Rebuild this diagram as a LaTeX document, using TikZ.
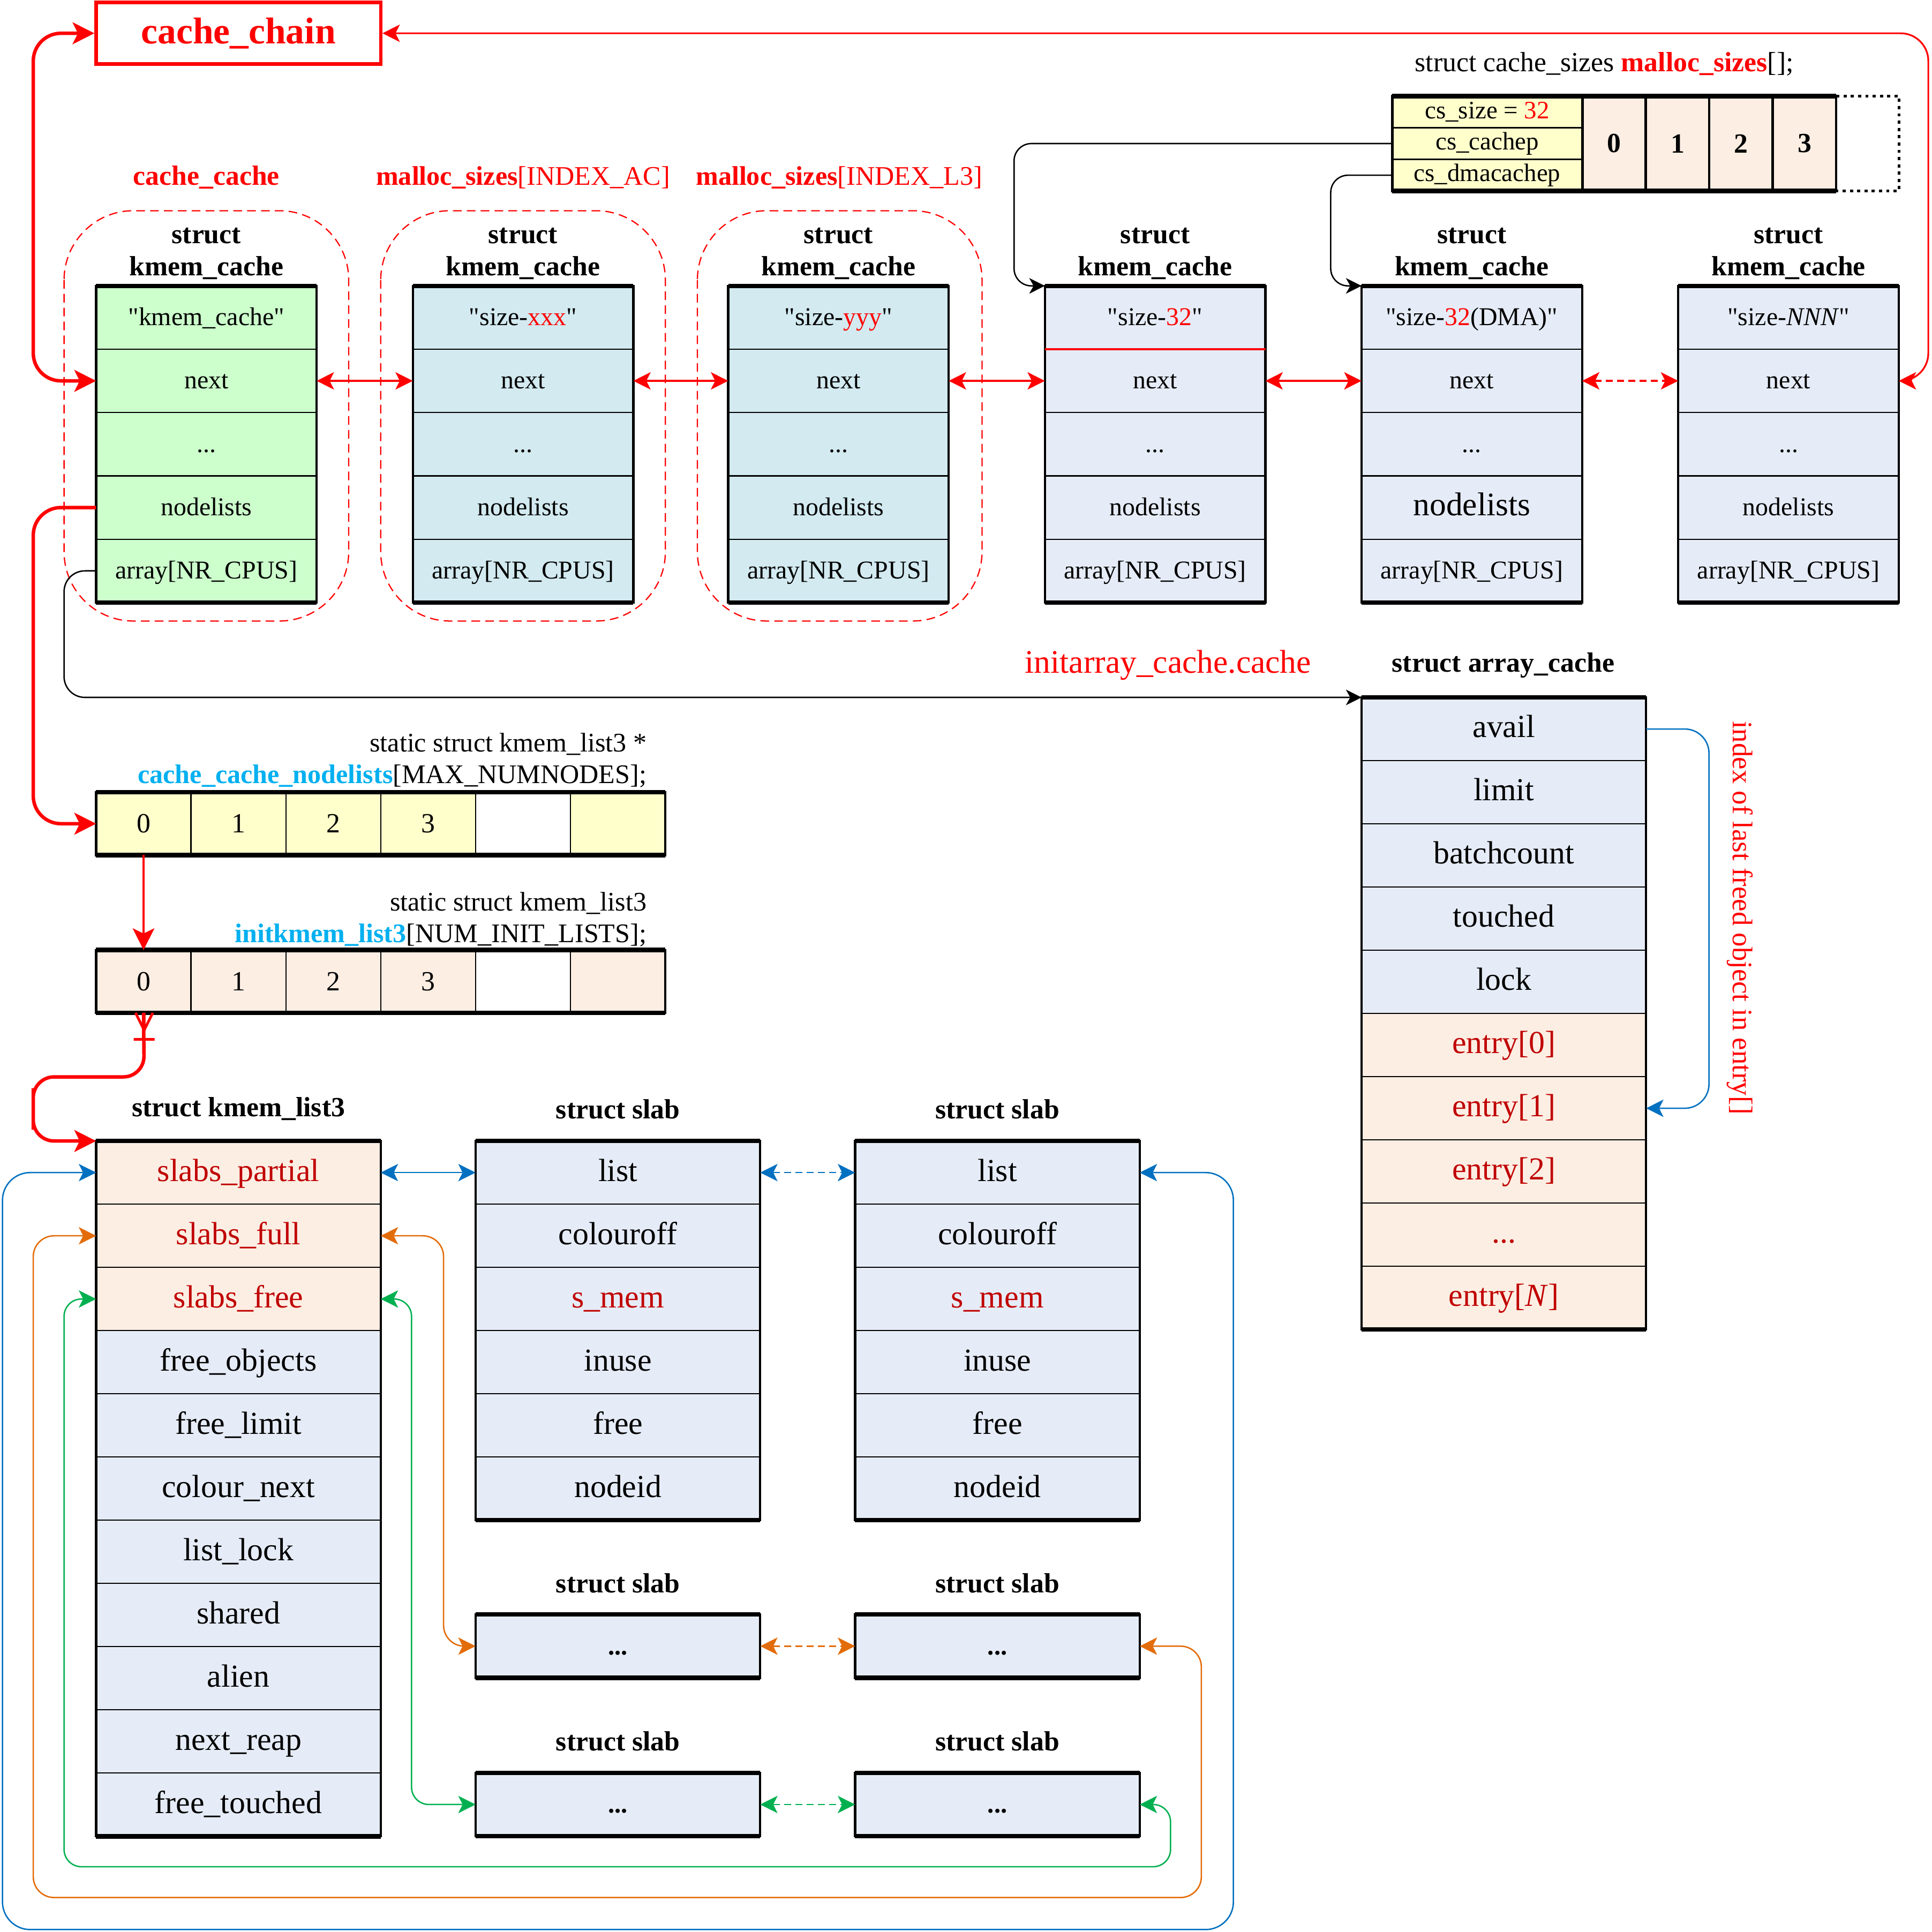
\documentclass[tikz,border=0pt]{standalone}
\usepackage{fontspec}
\setmainfont{Liberation Serif}[Ligatures=TeXOff]
\usetikzlibrary{arrows.meta}
\definecolor{kgreen}{HTML}{CCFFCC}
\definecolor{kblue}{HTML}{D2EAF0}
\definecolor{kgrey}{HTML}{E6ECF7}
\definecolor{kpeach}{HTML}{FCEEE3}
\definecolor{kyellow}{HTML}{FFFFCC}
\definecolor{dred}{HTML}{C00000}
\definecolor{kred}{HTML}{FF0000}
\definecolor{kcyan}{HTML}{00B0F0}
\definecolor{kbluel}{HTML}{0070C0}
\definecolor{korange}{HTML}{E36C0A}
\definecolor{kgreenl}{HTML}{00B050}
\newcommand\pxu{0.025cm}
\newcommand\myfs[1]{\fontsize{#1pt}{#1pt}\selectfont}
\tikzset{
  tipR/.tip={Stealth[length=12.5pt,width=12.5pt,inset=3pt]},
  tipM/.tip={Stealth[length=10pt,width=10pt,inset=2.5pt]},
  tipS/.tip={Stealth[length=9pt,width=9pt,inset=2.5pt]},
  cellbase/.style={draw=black, line width=0.7pt, inner sep=0pt, outer sep=0pt, anchor=center, text=black},
  kcell/.style={cellbase, minimum width={179*\pxu}, minimum height={51.4*\pxu}, font={\myfs{14.8}}, text height=11pt, text depth=1.8pt},
  bigcell/.style={cellbase, minimum width={231*\pxu}, minimum height={51.3*\pxu}, font={\myfs{18.5}}, text height=11.7pt, text depth=1.9pt},
  acell/.style={cellbase, minimum width={77*\pxu}, minimum height={51*\pxu}, font={\myfs{16}}},
  title/.style={font={\fontsize{16pt}{18.5pt}\selectfont\bfseries}, align=center, inner sep=0pt},
  note/.style={font={\myfs{15.5}}, inner sep=0pt},
  container/.style={draw=kred, line width=0.7pt, dash pattern=on 5pt off 3pt, rounded corners=40pt},
  dsh/.style={dash pattern=on 4pt off 2.5pt},
}
\newcommand\outerbox[2]{%
  \draw[line width=1.3pt] (#1.north west) rectangle (#2.south east);
  \draw[line width=2.6pt] (#1.north west) -- (#1.north west -| #2.south east)
       (#1.north west |- #2.south east) -- (#2.south east);
}
\newcommand\kmemcache[5]{%
  \node[kcell,fill=#3] (#1-1) at (#2,257.7) {#4};
  \node[kcell,fill=#3] (#1-2) at (#2,309.1) {next};
  \node[kcell,fill=#3] (#1-3) at (#2,360.5) {...};
  \node[kcell,fill=#3] (#1-4) at (#2,411.9) {#5};
  \node[kcell,fill=#3] (#1-5) at (#2,463.3) {array[NR\_CPUS]};
  \outerbox{#1-1}{#1-5}
  \node[title] (#1-t) at (#2,206) {struct\\kmem\_cache};
}
\begin{document}
\begin{tikzpicture}[x=0.025cm, y=-0.025cm]
\fill[white] (0,0) rectangle (1568,1568);
\useasboundingbox (0,0) rectangle (1568,1568);

% dashed containers
\draw[container] (52,171) rectangle (283,504);
\draw[container] (309,171) rectangle (540,504);
\draw[container] (566,171) rectangle (797,504);

% cache_chain
\node[draw=kred, line width=2pt, minimum width={231*\pxu}, minimum height={50*\pxu}, inner sep=0pt,
      text=kred, font={\myfs{21.5}\bfseries}] (cc) at (193.5,27) {cache\_chain};

% labels above containers
\node[font={\myfs{16}\bfseries}, text=kred, inner sep=0pt] (lcc) at (167.5,144) {cache\_cache};
\node[font={\myfs{15.5}}, text=kred, inner sep=0pt] (lac) at (424.5,144) {\textbf{malloc\_sizes}[INDEX\_AC]};
\node[font={\myfs{15.5}}, text=kred, inner sep=0pt] (ll3) at (681,144) {\textbf{malloc\_sizes}[INDEX\_L3]};

% kmem_cache structs
\kmemcache{k1}{167.5}{kgreen}{"kmem\_cache"}{nodelists}
\kmemcache{k2}{424.5}{kblue}{"size-\textcolor{kred}{xxx}"}{nodelists}
\kmemcache{k3}{680.5}{kblue}{"size-\textcolor{kred}{yyy}"}{nodelists}
\kmemcache{k4}{937.5}{kgrey}{"size-\textcolor{kred}{32}"}{nodelists}
\kmemcache{k5}{1194.5}{kgrey}{"size-\textcolor{kred}{32}(DMA)"}{{\myfs{19}nodelists}}
\kmemcache{k6}{1451.5}{kgrey}{"size-\textit{NNN}"}{nodelists}
\draw[kred, line width=1pt] (k4-1.south west) -- (k4-1.south east);

% malloc_sizes table
\node[note, font={\myfs{16}}] (mst) at (1302,52) {struct cache\_sizes \textbf{\textcolor{kred}{malloc\_sizes}}[];};
\node[cellbase, fill=kyellow, minimum width={154*\pxu}, minimum height={25.7*\pxu}, font={\myfs{14.5}}] (ms-1) at (1207,90.8) {cs\_size = \textcolor{kred}{32}};
\node[cellbase, fill=kyellow, minimum width={154*\pxu}, minimum height={25.7*\pxu}, font={\myfs{14.5}}] (ms-2) at (1207,116.5) {cs\_cachep};
\node[cellbase, fill=kyellow, minimum width={154*\pxu}, minimum height={25.7*\pxu}, font={\myfs{14.5}}] (ms-3) at (1207,142.2) {cs\_dmacachep};
\node[cellbase, line width=1.4pt, fill=kpeach, minimum width={51.5*\pxu}, minimum height={77*\pxu}, font={\myfs{16}\bfseries}] (mn-0) at (1310,116.5) {0};
\node[cellbase, line width=1.4pt, fill=kpeach, minimum width={51.5*\pxu}, minimum height={77*\pxu}, font={\myfs{16}\bfseries}] (mn-1) at (1361.5,116.5) {1};
\node[cellbase, line width=1.4pt, fill=kpeach, minimum width={51.5*\pxu}, minimum height={77*\pxu}, font={\myfs{16}\bfseries}] (mn-2) at (1413,116.5) {2};
\node[cellbase, line width=1.4pt, fill=kpeach, minimum width={51.5*\pxu}, minimum height={77*\pxu}, font={\myfs{16}\bfseries}] (mn-3) at (1464.5,116.5) {3};
\outerbox{ms-1}{mn-3}
\draw[line width=1.8pt, dash pattern=on 1.8pt off 2.4pt] (mn-3.north east) -- ++(51,0) |- (mn-3.south east);

% array_cache
\node[font={\myfs{19}}, text=kred, inner sep=0pt] (iac) at (948,540) {initarray\_cache.cache};
\node[font={\myfs{16}\bfseries}, inner sep=0pt] (act) at (1220,540) {struct array\_cache};
\node[bigcell, fill=kgrey] (ac-1) at (1220.5,591.65) {avail};
\node[bigcell, fill=kgrey] (ac-2) at (1220.5,642.95) {limit};
\node[bigcell, fill=kgrey] (ac-3) at (1220.5,694.25) {batchcount};
\node[bigcell, fill=kgrey] (ac-4) at (1220.5,745.55) {touched};
\node[bigcell, fill=kgrey] (ac-5) at (1220.5,796.85) {lock};
\node[bigcell, fill=kpeach, text=dred] (ac-6) at (1220.5,848.15) {entry[0]};
\node[bigcell, fill=kpeach, text=dred] (ac-7) at (1220.5,899.45) {entry[1]};
\node[bigcell, fill=kpeach, text=dred] (ac-8) at (1220.5,950.75) {entry[2]};
\node[bigcell, fill=kpeach, text=dred] (ac-9) at (1220.5,1002.05) {...};
\node[bigcell, fill=kpeach, text=dred] (ac-10) at (1220.5,1053.35) {entry[\textit{N}]};
\outerbox{ac-1}{ac-10}
\node[font={\myfs{16.3}}, text=kred, rotate=-90, inner sep=0pt] (idx) at (1412,745) {index of last freed object in entry[]};

% arrays
\node[note, anchor=east] (l1) at (525,604) {static struct kmem\_list3 *};
\node[note, anchor=east] (l2) at (525,630) {\textbf{\textcolor{kcyan}{cache\_cache\_nodelists}}[MAX\_NUMNODES];};
\node[note, anchor=east] (l3) at (525,733) {static struct kmem\_list3};
\node[note, anchor=east] (l4) at (525,759) {\textbf{\textcolor{kcyan}{initkmem\_list3}}[NUM\_INIT\_LISTS];};
\node[acell, fill=kyellow] (na-1) at (116.5,668.5) {0};
\node[acell, fill=kyellow] (na-2) at (193.5,668.5) {1};
\node[acell, fill=kyellow] (na-3) at (270.5,668.5) {2};
\node[acell, fill=kyellow] (na-4) at (347.5,668.5) {3};
\node[acell, fill=white] (na-5) at (424.5,668.5) {};
\node[acell, fill=kyellow] (na-6) at (501.5,668.5) {};
\outerbox{na-1}{na-6}
\node[acell, fill=kpeach] (ia-1) at (116.5,796.5) {0};
\node[acell, fill=kpeach] (ia-2) at (193.5,796.5) {1};
\node[acell, fill=kpeach] (ia-3) at (270.5,796.5) {2};
\node[acell, fill=kpeach] (ia-4) at (347.5,796.5) {3};
\node[acell, fill=white] (ia-5) at (424.5,796.5) {};
\node[acell, fill=kpeach] (ia-6) at (501.5,796.5) {};
\outerbox{ia-1}{ia-6}

% kmem_list3
\node[title] (klt) at (193.5,900) {struct kmem\_list3};
\node[bigcell, fill=kpeach, text=dred] (kl-1) at (193.5,951.65) {slabs\_partial};
\node[bigcell, fill=kpeach, text=dred] (kl-2) at (193.5,1002.95) {slabs\_full};
\node[bigcell, fill=kpeach, text=dred] (kl-3) at (193.5,1054.25) {slabs\_free};
\node[bigcell, fill=kgrey] (kl-4) at (193.5,1105.55) {free\_objects};
\node[bigcell, fill=kgrey] (kl-5) at (193.5,1156.85) {free\_limit};
\node[bigcell, fill=kgrey] (kl-6) at (193.5,1208.15) {colour\_next};
\node[bigcell, fill=kgrey] (kl-7) at (193.5,1259.45) {list\_lock};
\node[bigcell, fill=kgrey] (kl-8) at (193.5,1310.75) {shared};
\node[bigcell, fill=kgrey] (kl-9) at (193.5,1362.05) {alien};
\node[bigcell, fill=kgrey] (kl-10) at (193.5,1413.35) {next\_reap};
\node[bigcell, fill=kgrey] (kl-11) at (193.5,1464.65) {free\_touched};
\outerbox{kl-1}{kl-11}

% slabs
\node[title] (s1t) at (501.5,900) {struct slab};
\node[title] (s2t) at (809.5,900) {struct slab};
\node[bigcell, fill=kgrey] (s1-1) at (501.5,951.65) {list};
\node[bigcell, fill=kgrey] (s1-2) at (501.5,1002.95) {colouroff};
\node[bigcell, fill=kgrey, text=dred] (s1-3) at (501.5,1054.25) {s\_mem};
\node[bigcell, fill=kgrey] (s1-4) at (501.5,1105.55) {inuse};
\node[bigcell, fill=kgrey] (s1-5) at (501.5,1156.85) {free};
\node[bigcell, fill=kgrey] (s1-6) at (501.5,1208.15) {nodeid};
\node[bigcell, fill=kgrey] (s2-1) at (809.5,951.65) {list};
\node[bigcell, fill=kgrey] (s2-2) at (809.5,1002.95) {colouroff};
\node[bigcell, fill=kgrey, text=dred] (s2-3) at (809.5,1054.25) {s\_mem};
\node[bigcell, fill=kgrey] (s2-4) at (809.5,1105.55) {inuse};
\node[bigcell, fill=kgrey] (s2-5) at (809.5,1156.85) {free};
\node[bigcell, fill=kgrey] (s2-6) at (809.5,1208.15) {nodeid};
\outerbox{s1-1}{s1-6}
\outerbox{s2-1}{s2-6}
\node[title] (s3t) at (501.5,1285) {struct slab};
\node[title] (s4t) at (809.5,1285) {struct slab};
\node[title] (s5t) at (501.5,1413) {struct slab};
\node[title] (s6t) at (809.5,1413) {struct slab};
\node[bigcell, fill=kgrey, minimum height={51.5*\pxu}, font={\myfs{15}\bfseries}] (s3) at (501.5,1336) {...};
\node[bigcell, fill=kgrey, minimum height={51.5*\pxu}, font={\myfs{15}\bfseries}] (s4) at (809.5,1336) {...};
\node[bigcell, fill=kgrey, minimum height={51.5*\pxu}, font={\myfs{15}\bfseries}] (s5) at (501.5,1464.5) {...};
\node[bigcell, fill=kgrey, minimum height={51.5*\pxu}, font={\myfs{15}\bfseries}] (s6) at (809.5,1464.5) {...};
\outerbox{s3}{s3}
\outerbox{s4}{s4}
\outerbox{s5}{s5}
\outerbox{s6}{s6}

% ---- connectors ----
\draw[kred, line width=2pt, rounded corners=16pt, tipR-tipR] (cc.west) -| (27,150) |- (k1-2.west);
\draw[kred, line width=1pt, rounded corners=16pt, tipM-tipM] (cc.east) -| (1565,150) |- (k6-2.east);
\draw[kred, line width=1pt, tipM-tipM] (k1-2.east) -- (k2-2.west);
\draw[kred, line width=1pt, tipM-tipM] (k2-2.east) -- (k3-2.west);
\draw[kred, line width=1pt, tipM-tipM] (k3-2.east) -- (k4-2.west);
\draw[kred, line width=1pt, tipM-tipM] (k4-2.east) -- (k5-2.west);
\draw[kred, line width=1pt, dsh, tipM-tipM] (k5-2.east) -- (k6-2.west);
\draw[line width=0.8pt, rounded corners=10pt, -tipS] (ms-2.west) -| (823,200) |- (k4-1.north west);
\draw[line width=0.8pt, rounded corners=10pt, -tipS] (ms-3.west) -| (1080,200) |- (k5-1.north west);
\draw[line width=0.8pt, rounded corners=12pt, -tipS] (k1-5.west) -| (52,520) |- (ac-1.north west);
\draw[kbluel, line width=0.8pt, rounded corners=14pt, -tipM] (ac-1.east) -| (1387,750) |- (ac-7.east);
\draw[kred, line width=2pt, rounded corners=16pt, -tipR] (k1-4.west) -| (27,550) |- (na-1.west);
\draw[kred, line width=1.3pt, -tipR] (na-1.south) -- (ia-1.north);
\draw[kred, line width=2pt, rounded corners=12pt, -tipR] (ia-1.south) -- (117,874) -| (27,900) |- (kl-1.north west);
\draw[kred, line width=1.5pt] (110,822) -- (117,836) -- (124,822) (117,822) -- (117,836) (108.5,843.5) -- (125.5,843.5);
\draw[kbluel, line width=0.8pt, tipM-tipM] (kl-1.east) -- (s1-1.west);
\draw[kbluel, line width=0.8pt, dsh, tipM-tipM] (s1-1.east) -- (s2-1.west);
\draw[kbluel, line width=0.8pt, rounded corners=16pt, tipM-tipM] (s2-1.east) -| (1001,1566) -| (2,1200) |- (kl-1.west);
\draw[korange, line width=0.8pt, rounded corners=12pt, tipM-tipM] (kl-2.east) -| (360,1200) |- (s3.west);
\draw[korange, line width=0.8pt, dsh, tipM-tipM] (s3.east) -- (s4.west);
\draw[korange, line width=0.8pt, rounded corners=12pt, tipM-tipM] (s4.east) -| (975,1540) -| (27,1200) |- (kl-2.west);
\draw[kgreenl, line width=0.8pt, rounded corners=10pt, tipM-tipM] (kl-3.east) -| (334,1300) |- (s5.west);
\draw[kgreenl, line width=0.8pt, dsh, tipM-tipM] (s5.east) -- (s6.west);
\draw[kgreenl, line width=0.8pt, rounded corners=10pt, tipM-tipM] (s6.east) -| (950,1515) -| (52,1300) |- (kl-3.west);
\end{tikzpicture}
\end{document}
